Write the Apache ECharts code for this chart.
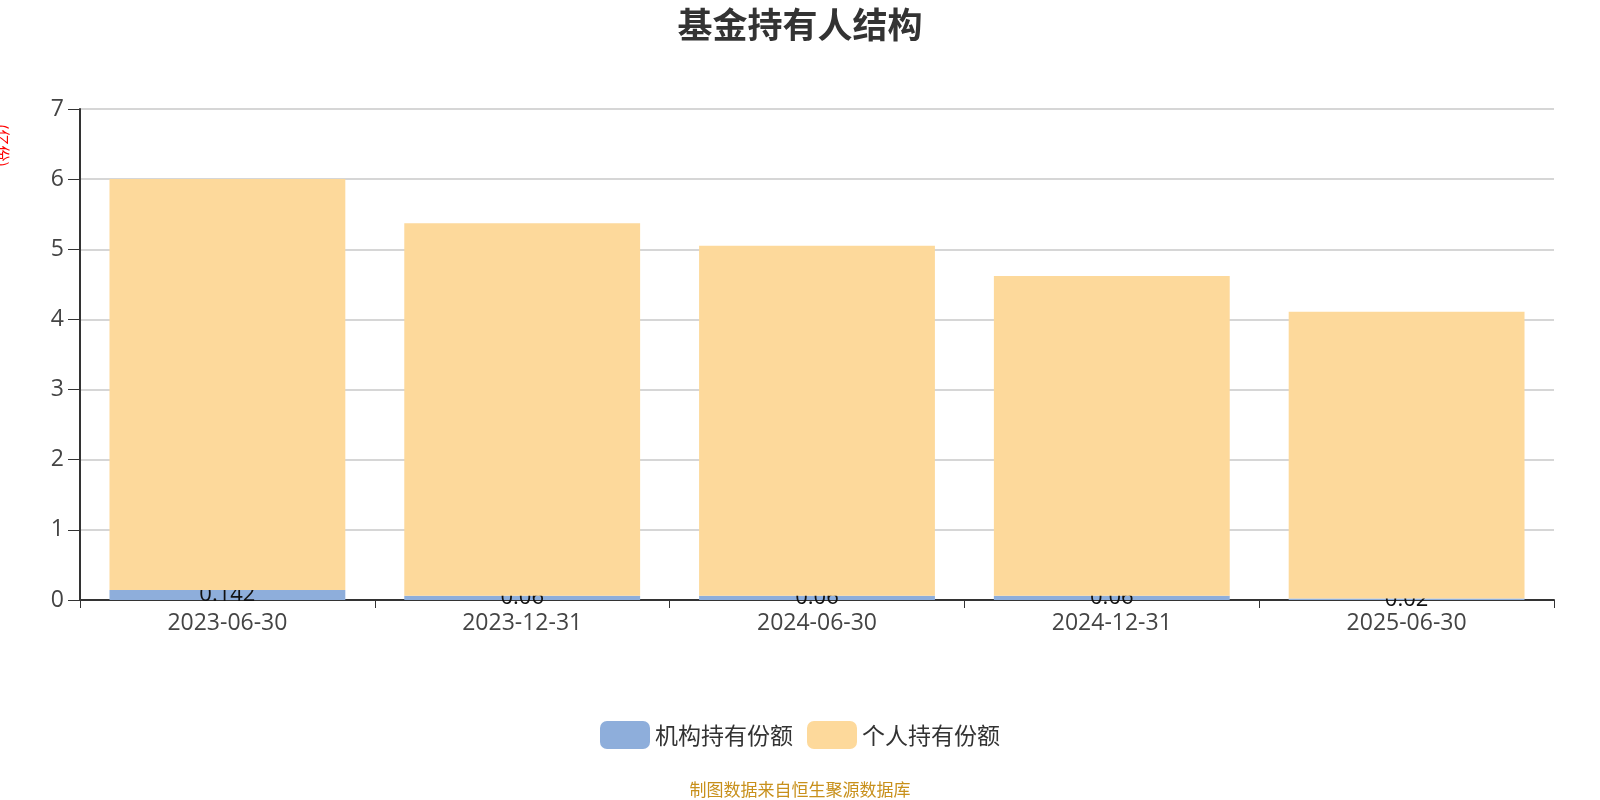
<!DOCTYPE html>
<html>
<head>
<meta charset="UTF-8">
<title>基金持有人结构</title>
<script src="https://cdn.jsdelivr.net/npm/echarts@6/dist/echarts.min.js"></script>
<style>html,body{margin:0;padding:0;}#main{width:1600px;height:800px;}</style>
</head>
<body>
<div id="main"></div>
<script>
// 报告期
var dates = ['2023-06-30', '2023-12-31', '2024-06-30', '2024-12-31', '2025-06-30'];
// 机构持有份额（亿份）
var jigou = [0.142, 0.06, 0.06, 0.06, 0.02];
// 个人持有份额（亿份）
var geren = [5.86, 5.31, 4.99, 4.56, 4.09];

var myChart = echarts.init(document.getElementById('main'));
var option = {
    title: {
        text: '基金持有人结构',
        left: 'center',
        top: 2,
        textStyle: {fontSize: 35, fontWeight: 'bold', color: '#333', fontFamily: 'Noto Sans CJK SC'}
    },
    graphic: [
        {
            type: 'text', left: 'center', bottom: 2,
            style: {text: '制图数据来自恒生聚源数据库', fill: '#c8901b', fontSize: 17, fontFamily: 'Noto Sans CJK SC'}
        },
        {
            type: 'text', x: 10, y: 124, rotation: -Math.PI / 2,
            style: {text: '(亿份)', fill: 'red', fontSize: 16, fontFamily: 'Noto Sans CJK SC'}
        }
    ],
    legend: {
        bottom: 46,
        itemWidth: 50, itemHeight: 28, itemGap: 14,
        textStyle: {fontSize: 23, color: '#333', fontFamily: 'Noto Sans CJK SC'},
        data: ['机构持有份额', '个人持有份额']
    },
    grid: {left: 80, right: 46, top: 109, bottom: 200},
    xAxis: {
        type: 'category',
        data: dates,
        axisTick: {show: true, length: 8, lineStyle: {color: '#333'}},
        axisLine: {lineStyle: {color: '#333', width: 2}},
        axisLabel: {fontSize: 23, color: '#444', margin: 12, fontFamily: 'Open Sans'}
    },
    yAxis: {
        type: 'value',
        min: 0, max: 7, interval: 1,
        axisLine: {show: true, lineStyle: {color: '#333', width: 2}},
        axisTick: {show: true, length: 12, lineStyle: {color: '#333'}},
        axisLabel: {fontSize: 23, color: '#444', margin: 16, fontFamily: 'Open Sans'},
        splitLine: {lineStyle: {color: '#c8c8c8', width: 1.5}}
    },
    series: [
        {
            name: '机构持有份额', type: 'bar', stack: 'total', barWidth: '80%', z: 2,
            itemStyle: {color: '#8eaedb'},
            label: {show: true, position: 'inside', color: '#111', fontSize: 22, fontFamily: 'Open Sans'},
            data: jigou
        },
        {
            name: '个人持有份额', type: 'bar', stack: 'total', barWidth: '80%', z: 3,
            itemStyle: {color: '#fdd99b'},
            data: geren
        }
    ]
};
myChart.setOption(option);
</script>
</body>
</html>
